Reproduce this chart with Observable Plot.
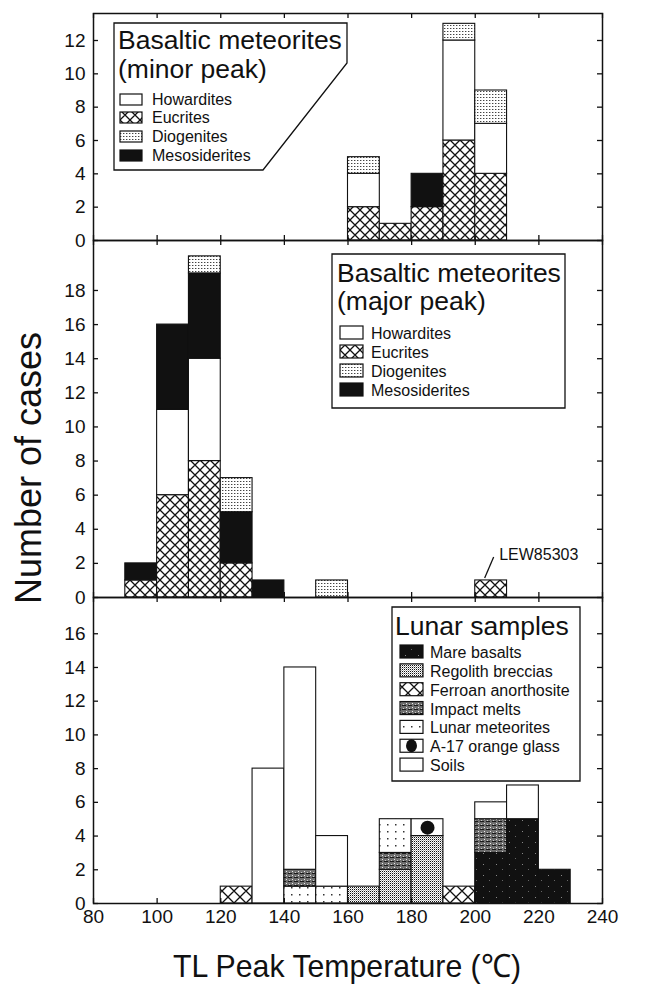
<!DOCTYPE html>
<html>
<head>
<meta charset="utf-8">
<script src="https://cdn.jsdelivr.net/npm/d3@7"></script>
<script src="https://cdn.jsdelivr.net/npm/@observablehq/plot@0.6"></script>
<style>
  html, body { margin: 0; padding: 0; background: #fff; }
  #wrap { position: relative; width: 656px; height: 985px; overflow: hidden; background: #fff;
          font-family: "Liberation Sans", Arial, Helvetica, sans-serif; }
  #wrap svg.panel { position: absolute; left: 0; overflow: visible; }
</style>
</head>
<body>
<div id="wrap"></div>
<script>
// ---------------- DATA ----------------
const binWidth = 10;
const xTicks = [80, 100, 120, 140, 160, 180, 200, 220, 240];
const xLabel = "TL Peak Temperature (℃)";
const yLabel = "Number of cases";

const basalticCategories = ["Howardites", "Eucrites", "Diogenites", "Mesosiderites"];
const lunarCategories = ["Mare basalts", "Regolith breccias", "Ferroan anorthosite", "Impact melts",
                         "Lunar meteorites", "A-17 orange glass", "Soils"];

// Panel 1: basaltic meteorites, minor peak (bin start, stack from bottom)
const minorTitle = ["Basaltic meteorites", "(minor peak)"];
const minorBins = [160, 170, 180, 190, 200];
const minorStacks = [
  [["Eucrites", 2], ["Howardites", 2], ["Diogenites", 1]],
  [["Eucrites", 1]],
  [["Eucrites", 2], ["Mesosiderites", 2]],
  [["Eucrites", 6], ["Howardites", 6], ["Diogenites", 1]],
  [["Eucrites", 4], ["Howardites", 3], ["Diogenites", 2]]
];
const minorYTicks = [0, 2, 4, 6, 8, 10, 12];

// Panel 2: basaltic meteorites, major peak
const majorTitle = ["Basaltic meteorites", "(major peak)"];
const majorBins = [90, 100, 110, 120, 130, 150, 200];
const majorStacks = [
  [["Eucrites", 1], ["Mesosiderites", 1]],
  [["Eucrites", 6], ["Howardites", 5], ["Mesosiderites", 5]],
  [["Eucrites", 8], ["Howardites", 6], ["Mesosiderites", 5], ["Diogenites", 1]],
  [["Eucrites", 2], ["Mesosiderites", 3], ["Diogenites", 2]],
  [["Mesosiderites", 1]],
  [["Diogenites", 1]],
  [["Eucrites", 1]]
];
const majorYTicks = [0, 2, 4, 6, 8, 10, 12, 14, 16, 18];
const majorNote = { bin: 200, count: 1, text: "LEW85303" };

// Panel 3: lunar samples
const lunarTitle = ["Lunar samples"];
const lunarBins = [120, 130, 140, 150, 160, 170, 180, 190, 200, 210, 220];
const lunarStacks = [
  [["Ferroan anorthosite", 1]],
  [["Soils", 8]],
  [["Lunar meteorites", 1], ["Impact melts", 1], ["Soils", 12]],
  [["Lunar meteorites", 1], ["Soils", 3]],
  [["Regolith breccias", 1]],
  [["Regolith breccias", 2], ["Impact melts", 1], ["Lunar meteorites", 2]],
  [["Regolith breccias", 4], ["A-17 orange glass", 1]],
  [["Ferroan anorthosite", 1]],
  [["Mare basalts", 3], ["Impact melts", 2], ["Soils", 1]],
  [["Mare basalts", 5], ["Soils", 2]],
  [["Mare basalts", 2]]
];
const lunarYTicks = [0, 2, 4, 6, 8, 10, 12, 14, 16];

// ---------------- STYLE ----------------
const fillOf = {
  "Howardites": "white",
  "Eucrites": "url(#p-xhatch)",
  "Diogenites": "url(#p-fine)",
  "Mesosiderites": "url(#p-black)",
  "Mare basalts": "url(#p-mare)",
  "Regolith breccias": "url(#p-regolith)",
  "Ferroan anorthosite": "url(#p-xhatch2)",
  "Impact melts": "url(#p-impact)",
  "Lunar meteorites": "url(#p-sparse)",
  "A-17 orange glass": "white",
  "Soils": "white"
};

const wrap = document.getElementById("wrap");

// pattern definitions
const defsSvg = d3.select(wrap).append("svg")
  .attr("width", 0).attr("height", 0)
  .style("position", "absolute").style("left", 0).style("top", 0);
const defs = defsSvg.append("defs");
function pat(id, w, h) {
  return defs.append("pattern").attr("id", id).attr("width", w).attr("height", h)
    .attr("patternUnits", "userSpaceOnUse");
}
function xhatch(id, s, sw) {
  const p = pat(id, s, s);
  p.append("rect").attr("width", s).attr("height", s).attr("fill", "white");
  const h = s / 2;
  p.append("path")
    .attr("d", `M0,0L${s},${s}M${-h},${h}L${h},${s + h}M${h},${-h}L${s + h},${h}` +
               `M${s},0L0,${s}M${s + h},${h}L${h},${s + h}M${h},${-h}L${-h},${h}`)
    .attr("stroke", "#111").attr("stroke-width", sw).attr("fill", "none");
}
xhatch("p-xhatch", 10, 1.3);
xhatch("p-xhatch2", 12, 1.3);
{
  const p = pat("p-fine", 3, 3);
  p.append("rect").attr("width", 3).attr("height", 3).attr("fill", "white");
  p.append("rect").attr("x", 0).attr("y", 1).attr("width", 1.4).attr("height", 1).attr("fill", "#444");
}
{
  const p = pat("p-black", 9, 7);
  p.append("rect").attr("width", 9).attr("height", 7).attr("fill", "#111");
}
{
  const p = pat("p-mare", 13, 11);
  p.append("rect").attr("width", 13).attr("height", 11).attr("fill", "#111");
  p.append("rect").attr("x", 2).attr("y", 3).attr("width", 1).attr("height", 1).attr("fill", "#888");
  p.append("rect").attr("x", 8).attr("y", 8).attr("width", 1).attr("height", 1).attr("fill", "#666");
}
{
  const p = pat("p-regolith", 2, 2);
  p.append("rect").attr("width", 2).attr("height", 2).attr("fill", "white");
  p.append("rect").attr("x", 0).attr("y", 0).attr("width", 1).attr("height", 1).attr("fill", "#111");
  p.append("rect").attr("x", 1).attr("y", 1).attr("width", 1).attr("height", 1).attr("fill", "#aaa");
}
{
  const p = pat("p-impact", 6, 4);
  p.append("rect").attr("width", 6).attr("height", 4).attr("fill", "#6e6e6e");
  p.append("rect").attr("x", 0).attr("y", 0).attr("width", 4).attr("height", 1).attr("fill", "#1a1a1a");
  p.append("rect").attr("x", 4).attr("y", 2).attr("width", 1).attr("height", 1).attr("fill", "#eee");
  p.append("rect").attr("x", 1).attr("y", 3).attr("width", 1).attr("height", 1).attr("fill", "#ccc");
}
{
  const p = pat("p-sparse", 8, 7);
  p.append("rect").attr("width", 8).attr("height", 7).attr("fill", "white");
  p.append("rect").attr("x", 3).attr("y", 3).attr("width", 1.5).attr("height", 1.5).attr("fill", "#333");
}

// ---------------- LAYOUT ----------------
const W = 656, ML = 93, MR = 54;
const PW = W - ML - MR;
const tickFont = "'Liberation Sans', Arial, sans-serif";

function toRows(bins, stacks) {
  const rows = [];
  bins.forEach((b, i) => {
    let y = 0;
    stacks[i].forEach(([cat, n]) => {
      rows.push({ x1: b, x2: b + binWidth, y1: y, y2: y + n, cat, fill: fillOf[cat] });
      y += n;
    });
  });
  return rows;
}

function makePanel({ rows, yTop, yTicks, top, height, marginTop = 0, marginBottom = 0, showX = false, extra = [] }) {
  const PH = height - marginTop - marginBottom;
  const marks = [
    Plot.rect(rows, { x1: "x1", x2: "x2", y1: "y1", y2: "y2", fill: "fill", stroke: "#111", strokeWidth: 1.1 }),
    ...extra,
    Plot.tickX(xTicks, { x: d => d, insetBottom: PH - 5, stroke: "#111", strokeWidth: 1.3 }),
    Plot.tickX(xTicks, { x: d => d, insetTop: PH - 5, stroke: "#111", strokeWidth: 1.3 }),
    Plot.tickY(yTicks, { y: d => d, insetRight: PW - 5, stroke: "#111", strokeWidth: 1.3 }),
    Plot.tickY(yTicks, { y: d => d, insetLeft: PW - 5, stroke: "#111", strokeWidth: 1.3 }),
    Plot.axisY({ ticks: yTicks, tickSize: 0, tickPadding: 8, label: null, fontSize: 19, fontFamily: tickFont }),
    Plot.frame({ stroke: "#111", strokeWidth: 1.5 })
  ];
  if (showX) marks.push(Plot.axisX({ ticks: xTicks, tickSize: 0, tickPadding: 6, label: null, fontSize: 19, fontFamily: tickFont }));
  const svg = Plot.plot({
    width: W, height, marginLeft: ML, marginRight: MR, marginTop, marginBottom,
    x: { domain: [80, 240], axis: showX ? undefined : null },
    y: { domain: [0, yTop] },
    color: { type: "identity" },
    style: { background: "transparent", overflow: "visible", color: "#111" },
    marks
  });
  svg.classList.add("panel");
  svg.style.top = top + "px";
  svg.style.position = "absolute";
  svg.style.overflow = "visible";
  svg.style.background = "transparent";
  wrap.appendChild(svg);
  return svg;
}

function swatch(g, cat, x, y, w, h) {
  g.append("rect").attr("x", x).attr("y", y).attr("width", w).attr("height", h)
    .attr("fill", fillOf[cat]).attr("stroke", "#111").attr("stroke-width", 1.2);
  if (cat === "A-17 orange glass") {
    g.append("ellipse").attr("cx", x + w / 2).attr("cy", y + h / 2).attr("rx", 5.5).attr("ry", 6.5).attr("fill", "#111");
  }
}

function legend(svg, { outline, titleLines, titleX, titleBaselines, items, swX, swW, swH, textX, baselines }) {
  const g = d3.select(svg).append("g")
    .attr("font-family", "'Liberation Sans', Arial, sans-serif")
    .attr("text-anchor", "start")
    .attr("fill", "#111");
  g.append("polygon").attr("points", outline.map(p => p.join(",")).join(" "))
    .attr("fill", "white").attr("stroke", "#111").attr("stroke-width", 1.3);
  titleLines.forEach((t, i) => {
    g.append("text").attr("x", titleX).attr("y", titleBaselines[i]).attr("text-anchor", "start")
      .attr("font-size", 26.5).text(t);
  });
  items.forEach((cat, i) => {
    swatch(g, cat, swX, baselines[i] - swH, swW, swH);
    g.append("text").attr("x", textX).attr("y", baselines[i]).attr("text-anchor", "start")
      .attr("font-size", 16).text(cat);
  });
}

// ---------------- PANEL 1 ----------------
const svg1 = makePanel({
  rows: toRows(minorBins, minorStacks), yTop: 13.62, yTicks: minorYTicks,
  top: 0, height: 240, marginTop: 13
});
legend(svg1, {
  outline: [[114, 23], [347, 23], [347, 63], [263, 170], [114, 170]],
  titleLines: minorTitle, titleX: 118, titleBaselines: [49, 78],
  items: basalticCategories, swX: 120, swW: 22, swH: 11, textX: 152,
  baselines: [105, 123, 142, 161]
});

// ---------------- PANEL 2 ----------------
const noteData = [{ x: majorNote.bin + binWidth / 2, y: majorNote.count, text: majorNote.text }];
const svg2 = makePanel({
  rows: toRows(majorBins, majorStacks), yTop: 20.93, yTicks: majorYTicks,
  top: 240, height: 357,
  extra: [
    Plot.text(noteData, { x: "x", y: "y", text: "text", dx: 8, dy: -20, textAnchor: "start", lineAnchor: "bottom",
      fontSize: 16, fontFamily: "'Liberation Sans', Arial, sans-serif", fill: "#111" })
  ]
});
{
  const xs = svg2.scale("x"), ys = svg2.scale("y");
  const x0 = xs.apply(majorNote.bin + binWidth / 2) - 6, y0 = ys.apply(majorNote.count) - 2;
  d3.select(svg2).append("line").attr("x1", x0).attr("y1", y0).attr("x2", x0 + 9).attr("y2", y0 - 21)
    .attr("stroke", "#111").attr("stroke-width", 1.3);
}
legend(svg2, {
  outline: [[332, 14], [565, 14], [565, 168], [332, 168]],
  titleLines: majorTitle, titleX: 337, titleBaselines: [42, 70],
  items: basalticCategories, swX: 340, swW: 23, swH: 13, textX: 371,
  baselines: [99, 118, 137, 156]
});

// ---------------- PANEL 3 ----------------
const lunarRows = toRows(lunarBins, lunarStacks);
const svg3 = makePanel({
  rows: lunarRows, yTop: 18.15, yTicks: lunarYTicks,
  top: 597, height: 388, marginBottom: 82, showX: true,
  extra: [
    Plot.dot(lunarRows.filter(d => d.cat === "A-17 orange glass"),
      { x: d => (d.x1 + d.x2) / 2, y: d => (d.y1 + d.y2) / 2, r: 7, fill: "#111", stroke: "none" })
  ]
});
legend(svg3, {
  outline: [[392, 10], [580, 10], [580, 184], [392, 184]],
  titleLines: lunarTitle, titleX: 395, titleBaselines: [38],
  items: lunarCategories, swX: 400, swW: 23, swH: 13, textX: 430,
  baselines: lunarCategories.map((_, i) => 61 + i * 18.85)
});

// ---------------- AXIS TITLES ----------------
const over = d3.select(wrap).append("svg").attr("width", W).attr("height", 985)
  .style("position", "absolute").style("left", 0).style("top", 0).style("pointer-events", "none");
over.append("text")
  .attr("transform", "translate(41,468) rotate(-90)")
  .attr("text-anchor", "middle")
  .attr("font-family", "'Liberation Sans', Arial, sans-serif")
  .attr("font-size", 36).attr("fill", "#111")
  .text(yLabel);
over.append("text")
  .attr("x", 347).attr("y", 977)
  .attr("text-anchor", "middle")
  .attr("font-family", tickFont)
  .attr("font-size", 32).attr("fill", "#111")
  .attr("textLength", 348).attr("lengthAdjust", "spacingAndGlyphs")
  .text(xLabel);
</script>
</body>
</html>
